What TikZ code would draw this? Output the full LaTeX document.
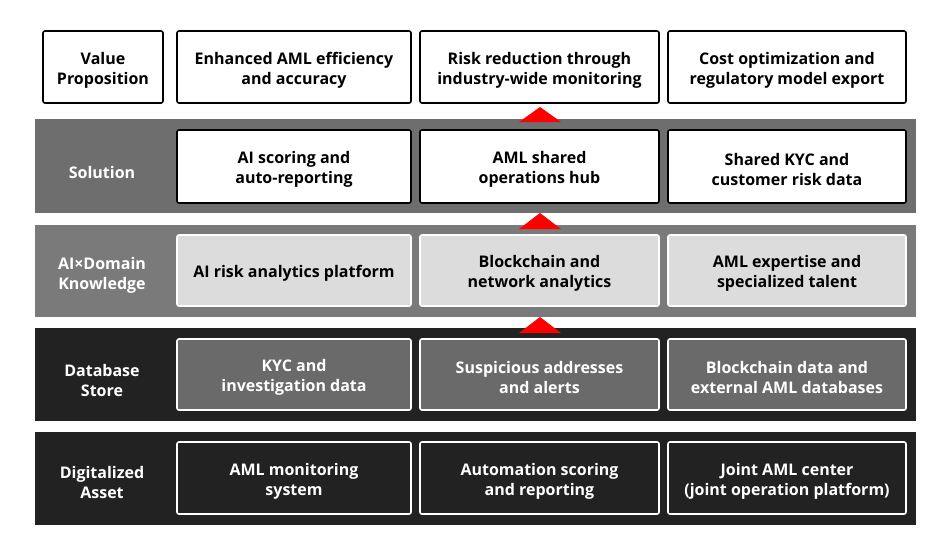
\documentclass[tikz,border=0pt]{standalone}
\usepackage{fontspec}
\setmainfont{Open Sans}
\definecolor{bandA}{RGB}{110,110,110}
\definecolor{bandB}{RGB}{122,122,122}
\definecolor{bandC}{RGB}{34,34,34}
\definecolor{boxL}{RGB}{220,220,220}
\definecolor{boxM}{RGB}{106,106,106}
\begin{document}
\begin{tikzpicture}[x=1pt,y=-1pt,
  every node/.style={font=\fontsize{16}{20}\selectfont\bfseries, align=center, inner sep=0pt, yshift=-3pt},
  box/.style={draw=#1, line width=1.6pt, rounded corners=2pt},
  lbl/.style={text=white},
  tri/.style={fill=red, draw=none}]
\useasboundingbox (0,0) rectangle (950,552);
\fill[white] (0,0) rectangle (950,552);
% bands
\fill[bandA] (35,119) rectangle (916,213);
\fill[bandB] (35,225) rectangle (916,317);
\fill[bandC] (35,328) rectangle (916,421);
\fill[bandC] (35,432) rectangle (916,525);
% row 1
\draw[box=black, fill=white] (43,31) rectangle (163,103) node[midway] (v0) {Value\\Proposition};
\draw[box=black, fill=white] (177,31) rectangle (411,103) node[midway] (v1) {Enhanced AML efficiency\\and accuracy};
\draw[box=black, fill=white] (420,31) rectangle (659,103) node[midway] (v2) {Risk reduction through\\industry-wide monitoring};
\draw[box=black, fill=white] (668,31) rectangle (906,103) node[midway] (v3) {Cost optimization and\\regulatory model export};
% row 2
\node[lbl] (s0) at (102,169) {Solution};
\draw[box=black, fill=white] (177,130) rectangle (411,203) node[midway] (s1) {AI scoring and\\auto-reporting};
\draw[box=black, fill=white] (420,130) rectangle (659,203) node[midway] (s2) {AML shared\\operations hub};
\draw[box=black, fill=white] (668,130) rectangle (906,203) node[midway] (s3) {Shared KYC and\\customer risk data};
% row 3
\node[lbl] (a0) at (102,272) {AI×Domain\\Knowledge};
\draw[box=white, fill=boxL] (177,235) rectangle (411,306) node[midway] (a1) {AI risk analytics platform};
\draw[box=white, fill=boxL] (420,235) rectangle (659,306) node[midway] (a2) {Blockchain and\\network analytics};
\draw[box=white, fill=boxL] (668,235) rectangle (906,306) node[midway] (a3) {AML expertise and\\specialized talent};
% row 4
\node[lbl] (d0) at (102,377) {Database\\Store};
\draw[box=white, fill=boxM] (177,339) rectangle (411,410) node[midway, lbl] (d1) {KYC and\\investigation data};
\draw[box=white, fill=boxM] (420,339) rectangle (659,410) node[midway, lbl] (d2) {Suspicious addresses\\and alerts};
\draw[box=white, fill=boxM] (668,339) rectangle (906,410) node[midway, lbl] (d3) {Blockchain data and\\external AML databases};
% row 5
\node[lbl] (g0) at (102,479) {Digitalized\\Asset};
\draw[box=white, fill=bandC] (177,442) rectangle (411,514) node[midway, lbl] (g1) {AML monitoring\\system};
\draw[box=white, fill=bandC] (420,442) rectangle (659,514) node[midway, lbl] (g2) {Automation scoring\\and reporting};
\draw[box=white, fill=bandC] (668,442) rectangle (906,514) node[midway, lbl] (g3) {Joint AML center\\(joint operation platform)};
% triangles
\fill[tri] (519,122) -- (540,107) -- (561,122) -- cycle;
\fill[tri] (519,229) -- (540,213) -- (561,229) -- cycle;
\fill[tri] (519,333) -- (540,317) -- (561,333) -- cycle;
\end{tikzpicture}
\end{document}
